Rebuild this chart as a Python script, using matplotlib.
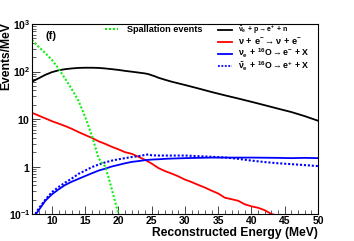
import matplotlib
matplotlib.use("Agg")
import matplotlib.pyplot as plt
from matplotlib.ticker import FixedLocator, FixedFormatter, NullFormatter

plt.rcParams['font.family'] = ['Liberation Sans', 'DejaVu Sans']
plt.rcParams['mathtext.fontset'] = 'custom'
plt.rcParams['mathtext.rm'] = 'Liberation Sans'
plt.rcParams['mathtext.bf'] = 'Liberation Sans:bold'
plt.rcParams['mathtext.it'] = 'Liberation Sans:italic'

# ---- data ----
spall_E = [7, 8, 9, 10, 11, 12, 13, 14, 15, 16, 17, 17.5, 18, 18.5, 19, 19.5, 20, 20.3]
spall_y = [460, 330, 245, 175, 115, 70, 42, 24, 11, 4.5, 1.5, 1.2, 1.0, 0.6, 0.33, 0.18, 0.1, 0.08]

ibd_E = [7, 8, 9, 10, 11, 12, 13, 14, 15, 16, 17, 18, 19, 20, 21, 22, 23, 24, 24.5,
         25.5, 26, 27, 28, 30, 32, 34, 36, 38, 40, 42, 44, 46, 48, 50]
ibd_y = [61, 72, 85, 97, 106, 112, 116, 119, 120, 120, 119, 116, 112, 108, 103, 99, 95, 91, 88,
         79, 74, 67, 61, 52, 44, 37, 31.5, 27, 23, 19.5, 16.5, 14, 11.5, 9.2]

es_E = [7, 8, 9, 10, 11, 12, 13, 14, 15, 16, 17, 18, 19, 20, 21, 22, 23, 24, 25, 26, 27, 28,
        29, 30, 31, 32, 33, 34, 35, 36, 37, 38, 39, 40, 41, 42, 43, 44]
es_y = [13.5, 11.8, 10.3, 9.0, 8.0, 7.1, 6.2, 5.3, 4.6, 4.0, 3.4, 3.0, 2.6, 2.3, 2.0, 1.85, 1.6,
        1.38, 1.15, 0.93, 0.8, 0.71, 0.62, 0.53, 0.47, 0.41, 0.36, 0.31, 0.27, 0.22, 0.205, 0.19,
        0.16, 0.145, 0.135, 0.12, 0.1, 0.092]

nue_E = [7.6, 8, 9, 10, 11, 12, 13, 14, 15, 16, 17, 18, 19, 20, 21, 22, 23, 24, 25, 26, 27, 28,
         30, 32, 34, 36, 38, 40, 42, 44, 46, 48, 50]
nue_y = [0.1, 0.12, 0.19, 0.26, 0.33, 0.41, 0.48, 0.55, 0.63, 0.72, 0.82, 0.9, 1.0, 1.08, 1.17,
         1.25, 1.3, 1.36, 1.4, 1.42, 1.45, 1.47, 1.5, 1.52, 1.54, 1.54, 1.54, 1.54, 1.53, 1.52,
         1.5, 1.52, 1.5]

nuebar_E = [7.5, 8, 9, 10, 11, 12, 13, 14, 15, 16, 17, 18, 19, 20, 21, 22, 23, 24, 24.5, 25, 26,
            28, 30, 32, 34, 36, 38, 40, 42, 44, 46, 48, 50]
nuebar_y = [0.1, 0.13, 0.2, 0.29, 0.37, 0.46, 0.56, 0.7, 0.82, 0.97, 1.1, 1.22, 1.33, 1.42, 1.5,
            1.58, 1.65, 1.75, 1.8, 1.72, 1.7, 1.7, 1.7, 1.65, 1.6, 1.55, 1.45, 1.33, 1.24, 1.17,
            1.12, 1.07, 1.02]

x_ticks = [10, 15, 20, 25, 30, 35, 40, 45, 50]
y_ticks = [0.1, 1, 10, 100, 1000]
y_ticklabels = [r'$\mathbf{10^{-1}}$', r'$\mathbf{1}$', r'$\mathbf{10}$',
                r'$\mathbf{10^{2}}$', r'$\mathbf{10^{3}}$']

fig = plt.figure(figsize=(3.54, 2.41), dpi=100)
ax = fig.add_axes([32/354, 1-214/241, (318-32)/354, (214-24)/241])

dot = (0, (1.0, 0.9))
green = '#11ee11'
ax.plot(ibd_E, ibd_y, color='black', lw=1.3)
ax.plot(es_E, es_y, color='#ff0000', lw=1.3)
ax.plot(nue_E, nue_y, color='#0000ff', lw=1.3)
ax.plot(nuebar_E, nuebar_y, color='#0000ff', lw=1.5, linestyle=dot)
ax.plot(spall_E, spall_y, color=green, lw=1.5, linestyle=dot)

ax.set_yscale('log')
ax.set_xlim(7, 50)
ax.set_ylim(0.1, 1000)

ax.xaxis.set_major_locator(FixedLocator(x_ticks))
ax.xaxis.set_minor_locator(FixedLocator([v for v in range(7, 51) if v % 5 != 0]))
ax.yaxis.set_major_locator(FixedLocator(y_ticks))
ax.yaxis.set_major_formatter(FixedFormatter(y_ticklabels))
ax.yaxis.set_minor_formatter(NullFormatter())
ax.set_xticklabels([str(v) for v in x_ticks], fontweight='bold')
ax.tick_params(axis='both', which='major', direction='in', length=6, width=0.7,
               labelsize=7.5, pad=1.5, color='#444444')
ax.tick_params(axis='both', which='minor', direction='in', length=3, width=0.6,
               color='#444444')
ax.tick_params(axis='y', which='major', pad=1)
for s in ax.spines.values():
    s.set_linewidth(0.8)

ax.set_xlabel('Reconstructed Energy (MeV)', fontsize=8.7, fontweight='bold',
              ha='right', labelpad=-1)
ax.xaxis.set_label_coords(1.0, -0.07)
ax.set_ylabel('Events/MeV', fontsize=8.7, fontweight='bold', ha='right', labelpad=1)
ax.yaxis.set_label_coords(-0.07, 1.01)

ax.text(45/354, 1-36/241, '(f)', transform=fig.transFigure, fontsize=8,
        fontweight='bold', va='center', ha='left')

# legends
fig.lines.append(plt.Line2D([105/354, 118/354], [1-29/241, 1-29/241], transform=fig.transFigure,
                            color=green, lw=1.5, linestyle=dot))
fig.text(127/354, 1-29/241, 'Spallation events', fontsize=6.6, fontweight='bold',
         va='center', ha='left')

leg_rows = [30, 42, 53.5, 66]
leg_cols = ['black', '#ff0000', '#0000ff', '#0000ff']
leg_styles = ['-', '-', '-', dot]
leg_texts = [r'$\mathbf{\bar{\nu}_{e}\,+\,p \rightarrow e^{+}\,+\,n}$',
             r'$\mathbf{\nu\,+\,e^{-} \rightarrow \nu\,+\,e^{-}}$',
             r'$\mathbf{\nu_{e}\,+\,^{16}O \rightarrow e^{-}\,+\,X}$',
             r'$\mathbf{\bar{\nu}_{e}\,+\,^{16}O \rightarrow e^{+}\,+\,X}$']
leg_sizes = [5.0, 6.6, 6.3, 6.3]
for yy, c, ls, t, fs in zip(leg_rows, leg_cols, leg_styles, leg_texts, leg_sizes):
    fig.lines.append(plt.Line2D([218/354, 232/354], [1-yy/241, 1-yy/241],
                                transform=fig.transFigure, color=c, lw=1.3, linestyle=ls))
    fig.text(238/354, 1-yy/241, t, fontsize=fs, va='center', ha='left')

fig.savefig('out.png', dpi=100)
